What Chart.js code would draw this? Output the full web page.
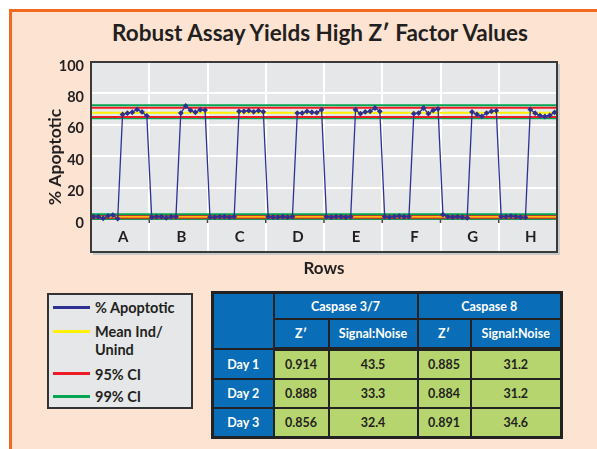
<!DOCTYPE html>
<html>
<head>
<meta charset="utf-8">
<script src="https://cdn.jsdelivr.net/npm/chart.js@4.4.1/dist/chart.umd.min.js"></script>
<style>
	body { margin: 0; width: 597px; height: 449px; background: #fff; overflow: hidden; position: relative; font-family: Lato, 'Open Sans', sans-serif; color: #231f20; }
	.panel { position: absolute; left: 9px; top: 9px; width: 600px; height: 460px; background: #fde3d2; border-left: 3px solid #f26a21; border-top: 3px solid #f26a21; }
	#title { position: absolute; left: 0; top: 20px; width: 640px; text-align: center; font-weight: bold; font-size: 22.5px; line-height: 26px; }
	.chart { position: absolute; left: 0; top: 0; width: 597px; height: 290px; }
	.legend { position: absolute; left: 47px; top: 293px; width: 142px; height: 112px; background: #e6e7e8; border: 2px solid #333; }
	.legend .item { position: absolute; left: 46px; font-weight: bold; font-size: 14.5px; line-height: 18px; }
	.legend .swatch { position: absolute; left: 4px; width: 37px; height: 3px; }
	.stats { position: absolute; left: 211px; top: 291px; border-collapse: collapse; border: 3px solid #222; font-weight: bold; font-size: 12.5px; }
	.stats th, .stats td { border: 2px solid #222; text-align: center; padding: 0; }
	.stats th { background: #0a6db8; color: #fff; }
	.stats td { background: #b7d56e; color: #231f20; }
	.stats tr.h1 th { height: 24px; }
	.stats tr.h2 th { height: 27px; border-bottom-width: 4px; }
	.stats tr.body th, .stats tr.body td { height: 27px; }
</style>
</head>
<body>
<div class="panel"></div>
<div id="title">Robust Assay Yields High Z′ Factor Values</div>
<div class="chart"><canvas id="chartAssay"></canvas></div>
<div class="legend" id="legend"></div>
<table class="stats" id="stats"></table>
<script>
const rows = ['A', 'B', 'C', 'D', 'E', 'F', 'G', 'H'];
const yTicks = [0, 20, 40, 60, 80, 100];

// 12 wells per row: 6 uninduced then 6 induced
const apoptotic = [
	1.5, 1.5, 0.5, 2.0, 2.5, 0.2, 66.6, 67.4, 68.0, 69.8, 68.2, 65.7,
	1.2, 1.5, 1.5, 0.8, 1.5, 1.5, 67.5, 72.0, 69.2, 68.0, 69.6, 69.4,
	1.2, 1.2, 1.5, 1.5, 1.2, 1.5, 68.6, 68.6, 69.0, 68.3, 69.0, 68.3,
	1.5, 1.2, 1.2, 1.5, 1.2, 1.5, 67.5, 67.5, 68.6, 68.0, 67.7, 69.6,
	1.5, 1.2, 1.5, 1.5, 1.2, 1.5, 69.6, 67.1, 68.2, 68.6, 70.7, 68.6,
	1.5, 1.2, 1.5, 1.8, 1.5, 1.5, 67.1, 67.5, 70.7, 67.1, 69.2, 70.1,
	2.8, 1.5, 1.2, 1.5, 1.2, 0.8, 68.2, 66.7, 65.4, 67.5, 68.6, 69.0,
	1.5, 1.5, 1.8, 1.5, 1.2, 1.0, 69.8, 67.4, 65.9, 65.3, 66.0, 67.9,
];

// [uninduced, induced]
const meanInd = [1.6, 67.7];
const ci95Low = [0.8, 65.0];
const ci95High = [2.4, 70.9];
const ci99Low = [0.2, 64.1];
const ci99High = [3.0, 72.4];

const days = ['Day 1', 'Day 2', 'Day 3'];
const zCasp37 = ['0.914', '0.888', '0.856'];
const snCasp37 = ['43.5', '33.3', '32.4'];
const zCasp8 = ['0.885', '0.884', '0.891'];
const snCasp8 = ['31.2', '31.2', '34.6'];

const navy = '#2e3192';
const yellow = '#fff200';
const red = '#ed1c24';
const green = '#00a651';
const wells = apoptotic.length;

const flatLine = (v, color, width) => ({
	data: [{ x: 0, y: v }, { x: wells, y: v }],
	borderColor: color,
	borderWidth: width,
	pointRadius: 0,
});

const refSets = [];
[0, 1].forEach((i) => {
	refSets.push(flatLine(ci99High[i], green, 2));
	refSets.push(flatLine(ci95High[i], red, 2));
	refSets.push(flatLine(meanInd[i], yellow, 2));
	refSets.push(flatLine(ci95Low[i], red, 2));
	refSets.push(flatLine(ci99Low[i], green, 2));
});

const framePlugin = {
	id: 'frame',
	beforeDraw(chart) {
		const { ctx, chartArea: a } = chart;
		ctx.save();
		ctx.fillStyle = '#c9c9c9';
		ctx.fillRect(a.left + 2, a.top + 2, a.width + 1, a.height + 1);
		ctx.fillStyle = '#e6e7e8';
		ctx.fillRect(a.left, a.top, a.width, a.height);
		ctx.restore();
	},
	beforeDatasetsDraw(chart) {
		const { ctx, chartArea: a, scales } = chart;
		const y0 = scales.y.getPixelForValue(0);
		ctx.save();
		ctx.strokeStyle = '#444';
		ctx.lineWidth = 1.5;
		ctx.beginPath();
		ctx.moveTo(a.left, y0);
		ctx.lineTo(a.right, y0);
		for (let i = 12; i < wells; i += 12) {
			const x = scales.x.getPixelForValue(i);
			ctx.moveTo(x, y0);
			ctx.lineTo(x, y0 + 4);
		}
		ctx.stroke();
		ctx.restore();
	},
	afterDraw(chart) {
		const { ctx, chartArea: a } = chart;
		ctx.save();
		ctx.strokeStyle = '#3a3a3a';
		ctx.lineWidth = 2;
		ctx.strokeRect(a.left, a.top, a.width, a.height);
		ctx.restore();
	},
};

const config = {
	type: 'line',
	data: {
		datasets: [
			{
				data: apoptotic.map((v, i) => ({ x: i + 0.5, y: v })),
				borderColor: navy,
				borderWidth: 1.3,
				backgroundColor: navy,
				pointStyle: 'rectRot',
				pointRadius: 2.9,
				pointBorderWidth: 0,
			},
			...refSets,
		],
	},
	options: {
		responsive: true,
		maintainAspectRatio: false,
		animation: false,
		layout: { padding: { top: 62, right: 40, left: 0, bottom: 0 } },
		plugins: { legend: { display: false }, tooltip: { enabled: false } },
		scales: {
			x: {
				type: 'linear',
				min: 0,
				max: wells,
				afterBuildTicks: (scale) => {
					const t = [];
					for (let v = 0; v <= wells; v += 6) t.push({ value: v });
					scale.ticks = t;
				},
				afterFit: (scale) => { scale.height = 38; },
				border: { display: false },
				grid: {
					drawTicks: false,
					lineWidth: 2,
					color: (c) => (c.tick && c.tick.value % 12 === 0 && c.tick.value > 0 && c.tick.value < wells ? '#ffffff' : 'rgba(0,0,0,0)'),
				},
				ticks: {
					autoSkip: false,
					maxRotation: 0,
					mirror: true,
					padding: 6,
					labelOffset: 3,
					color: '#231f20',
					font: { family: 'Lato', weight: 'bold', size: 15 },
					callback: (v) => (v % 12 === 6 ? rows[(v - 6) / 12] : ''),
				},
				title: {
					display: true,
					text: 'Rows',
					color: '#231f20',
					font: { family: 'Lato', weight: 'bold', size: 17 },
					padding: { top: 0, bottom: 11 },
				},
			},
			y: {
				min: -21,
				max: 100,
				afterBuildTicks: (scale) => { scale.ticks = yTicks.map((v) => ({ value: v })); },
				afterFit: (scale) => { scale.width = 91; },
				border: { display: false },
				grid: {
					drawTicks: false,
					lineWidth: 2,
					color: (c) => (c.tick && c.tick.value > 0 && c.tick.value < 100 ? '#ffffff' : 'rgba(0,0,0,0)'),
				},
				ticks: {
					padding: 7,
					labelOffset: 4,
					color: '#231f20',
					font: { family: 'Lato', weight: 'bold', size: 14.5 },
				},
				title: {
					display: true,
					text: '% Apoptotic',
					color: '#231f20',
					font: { family: 'Lato', weight: 'bold', size: 17.5 },
					padding: { top: 45, bottom: 0 },
				},
			},
		},
	},
	plugins: [framePlugin],
};

new Chart(document.getElementById('chartAssay').getContext('2d'), config);

// legend box
const legendItems = [
	{ text: '% Apoptotic', color: navy, top: 4, swatch: 11 },
	{ text: 'Mean Ind/<br>Unind', color: yellow, top: 28, swatch: 35 },
	{ text: '95% CI', color: red, top: 71, swatch: 77 },
	{ text: '99% CI', color: green, top: 93, swatch: 100 },
];
const legend = document.getElementById('legend');
legendItems.forEach((it) => {
	const sw = document.createElement('div');
	sw.className = 'swatch';
	sw.style.top = it.swatch + 'px';
	sw.style.background = it.color;
	legend.appendChild(sw);
	const tx = document.createElement('div');
	tx.className = 'item';
	tx.style.top = it.top + 'px';
	tx.innerHTML = it.text;
	legend.appendChild(tx);
});

// stats table
const stats = document.getElementById('stats');
let html = '<colgroup><col style="width:61px"><col style="width:55px"><col style="width:89px"><col style="width:53px"><col style="width:91px"></colgroup>';
html += '<tr class="h1"><th rowspan="2"></th><th colspan="2">Caspase 3/7</th><th colspan="2">Caspase 8</th></tr>';
html += '<tr class="h2"><th>Z′</th><th>Signal:Noise</th><th>Z′</th><th>Signal:Noise</th></tr>';
days.forEach((d, i) => {
	html += `<tr class="body"><th>${d}</th><td>${zCasp37[i]}</td><td>${snCasp37[i]}</td><td>${zCasp8[i]}</td><td>${snCasp8[i]}</td></tr>`;
});
stats.innerHTML = html;
</script>
</body>
</html>
